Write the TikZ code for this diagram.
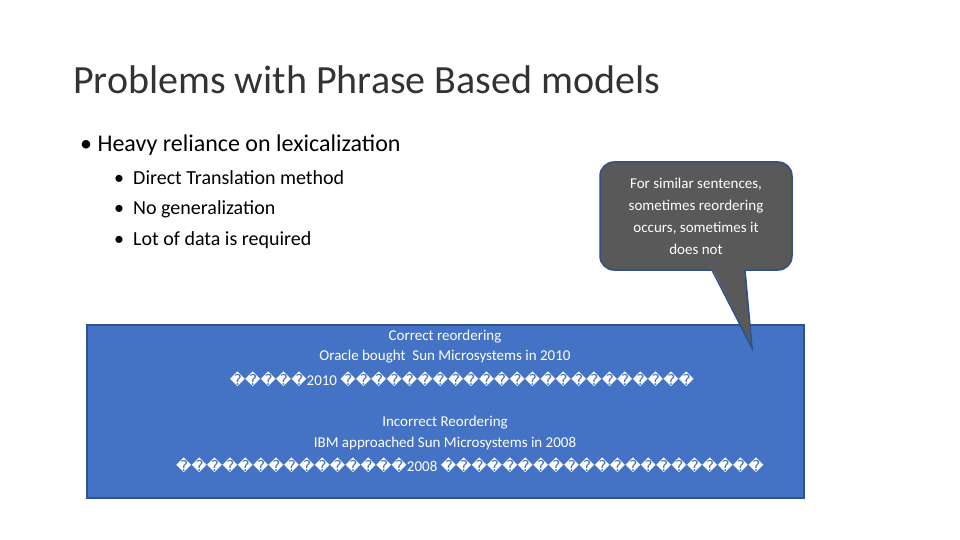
\documentclass[tikz,border=0pt]{standalone}
\usepackage{fontspec}
\setmainfont{Carlito}
\newfontfamily\repl{DejaVu Sans}
\definecolor{boxblue}{HTML}{4472C4}
\definecolor{boxedge}{HTML}{2F528F}
\definecolor{callgray}{HTML}{595959}
\begin{document}
\begin{tikzpicture}[x=1pt,y=1pt,
  boxtext/.style={font=\fontsize{15}{17}\selectfont,text=white,anchor=center,inner sep=0}]
\useasboundingbox (0,0) rectangle (960,-540);
\node[anchor=west,inner sep=0,font=\fontsize{40}{44}\selectfont,text=black!80] (title) at (73,-80) {Problems with Phrase Based models};
\node[anchor=west,inner sep=0,font=\fontsize{24}{28}\selectfont] (b1) at (80,-145) {\textbullet\ Heavy reliance on lexicalization};
\node[anchor=west,inner sep=0,font=\fontsize{20}{24}\selectfont] (s1) at (114,-178) {\textbullet\ \ Direct Translation method};
\node[anchor=west,inner sep=0,font=\fontsize{20}{24}\selectfont] (s2) at (114,-209) {\textbullet\ \ No generalization};
\node[anchor=west,inner sep=0,font=\fontsize{20}{24}\selectfont] (s3) at (114,-240) {\textbullet\ \ Lot of data is required};
\draw[boxedge,line width=1.5pt,fill=boxblue] (87,-325) rectangle (804,-498);
\node[boxtext] (l1) at (445,-337) {Correct reordering};
\node[boxtext] (l2) at (445,-357) {Oracle bought\ \ Sun Microsystems in 2010};
\node[boxtext] (l3) at (462,-379) {{\repl �����}2010 {\repl �����������������������}};
\node[boxtext] (l4) at (445,-423) {Incorrect Reordering};
\node[boxtext] (l5) at (445,-443) {IBM approached Sun Microsystems in 2008};
\node[boxtext] (l6) at (470,-465) {{\repl ���������������}2008 {\repl ���������������������}};
\draw[boxblue!70!black,line width=1.5pt,fill=callgray,rounded corners=14pt] (600,-162) rectangle (792,-270);
\fill[callgray] (712,-268) -- (752,-348) -- (745,-268) -- cycle;
\draw[boxblue!70!black,line width=1.5pt] (712,-270) -- (752,-348) -- (745,-270);
\node[align=center,text=white,font=\fontsize{15}{22}\selectfont] (call) at (696,-216) {For similar sentences,\\sometimes reordering\\occurs, sometimes it\\does not};
\end{tikzpicture}
\end{document}
